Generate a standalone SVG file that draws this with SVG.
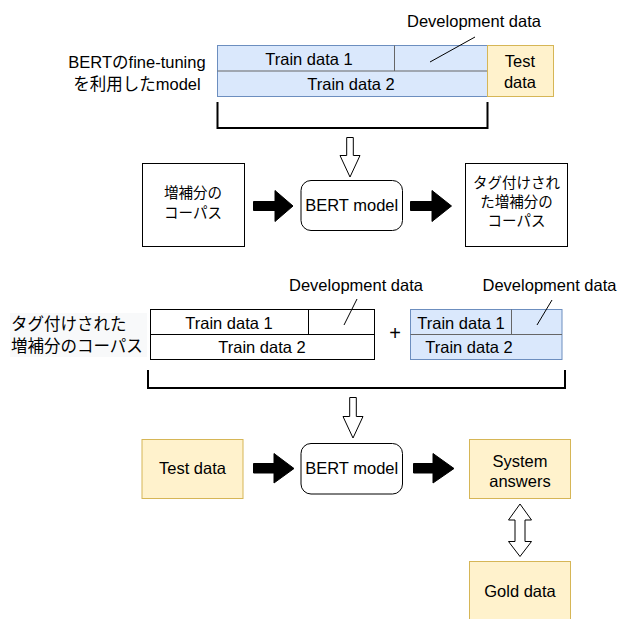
<svg xmlns="http://www.w3.org/2000/svg" width="618" height="619" viewBox="0 0 618 619">
<style>
text{font-family:"Liberation Sans","Noto Sans CJK JP",sans-serif;fill:#000;}
.t{font-size:16.5px;text-anchor:middle;}
.jp{font-family:"Noto Sans CJK JP",sans-serif;}
.blue{fill:#dae8fc;stroke:#6c8ebf;stroke-width:1;}
.yel{fill:#fff2cc;stroke:#d6b656;stroke-width:1;}
.box{fill:#fff;stroke:#000;stroke-width:1;}
.div{stroke:#666;stroke-width:1;fill:none;}
.ln{stroke:#000;stroke-width:1;fill:none;}
.br{stroke:#000;stroke-width:2;fill:none;}
.solid{fill:#000;stroke:#000;stroke-width:1;}
.hollow{fill:#fff;stroke:#000;stroke-width:1;}
</style>

<g id="top-label">
<text class="t" x="137" y="68">BERTのfine-tuning</text>
<text class="t" x="137" y="90">を利用したmodel</text>
</g>

<g id="top-data">
<rect class="blue" x="217.5" y="45.5" width="270" height="51"/>
<line class="div" x1="217.5" y1="71" x2="487.5" y2="71"/>
<line class="div" x1="394.5" y1="45.5" x2="394.5" y2="71"/>
<text class="t" x="309" y="65">Train data 1</text>
<text class="t" x="351" y="90">Train data 2</text>
</g>

<g id="top-test">
<rect class="yel" x="487.5" y="45.5" width="66" height="51"/>
<text class="t" x="520" y="67">Test</text>
<text class="t" x="520" y="88">data</text>
</g>

<g id="top-dev-label">
<text class="t" x="474" y="27">Development data</text>
</g>

<g id="mid-left">
<rect class="box" x="142.5" y="163.5" width="102" height="83"/>
<text class="t jp" x="193" y="198" style="font-size:14.5px">増補分の</text>
<text class="t jp" x="193" y="218" style="font-size:14.5px">コーパス</text>
</g>

<g id="mid-bert">
<rect class="box" x="301" y="180.5" width="101.5" height="50" rx="10"/>
<text class="t" x="351.7" y="211">BERT model</text>
</g>

<g id="mid-right">
<rect class="box" x="465.5" y="163.5" width="102" height="83"/>
<text class="t jp" x="516.5" y="188" style="font-size:14.5px">タグ付けされ</text>
<text class="t jp" x="516.5" y="207" style="font-size:14.5px">た増補分の</text>
<text class="t jp" x="516.5" y="226" style="font-size:14.5px">コーパス</text>
</g>

<g id="sec-label">
<rect x="10" y="313" width="137" height="44" fill="#f8f9fa"/>
<text class="jp" x="11" y="330" style="font-size:16.5px">タグ付けされた</text>
<text class="jp" x="11" y="352" style="font-size:16.5px">増補分のコーパス</text>
</g>

<g id="sec-white">
<rect class="box" x="150.5" y="309.5" width="224" height="50"/>
<line class="ln" x1="150.5" y1="334.5" x2="374.5" y2="334.5"/>
<line class="ln" x1="308.5" y1="309.5" x2="308.5" y2="334.5"/>
<text class="t" x="229" y="329">Train data 1</text>
<text class="t" x="262" y="353">Train data 2</text>
</g>

<g id="plus">
<text class="t" x="395" y="340" style="font-size:20px">+</text>
</g>

<g id="sec-blue">
<rect class="blue" x="410.5" y="309.5" width="151.5" height="50"/>
<line class="div" x1="410.5" y1="334.5" x2="562" y2="334.5"/>
<line class="div" x1="511.5" y1="309.5" x2="511.5" y2="334.5"/>
<text class="t" x="461" y="329">Train data 1</text>
<text class="t" x="469" y="353">Train data 2</text>
</g>

<g id="sec-dev-labels">
<text class="t" x="356" y="291">Development data</text>
<text class="t" x="549.5" y="291">Development data</text>
</g>

<g id="bot-test">
<rect class="yel" x="142" y="439.5" width="101" height="59"/>
<text class="t" x="192.5" y="474">Test data</text>
</g>

<g id="bot-bert">
<rect class="box" x="301" y="443.5" width="101.5" height="50.5" rx="10"/>
<text class="t" x="351.7" y="474">BERT model</text>
</g>

<g id="bot-system">
<rect class="yel" x="469.5" y="439.5" width="101" height="59"/>
<text class="t" x="520" y="467">System</text>
<text class="t" x="520" y="487">answers</text>
</g>

<g id="bot-gold">
<rect class="yel" x="469.5" y="561.5" width="101" height="60"/>
<text class="t" x="520" y="597">Gold data</text>
</g>

<g id="connectors">
<line class="ln" x1="475" y1="37" x2="430" y2="62"/>
<line class="ln" x1="357" y1="299" x2="344" y2="325"/>
<line class="ln" x1="552" y1="300" x2="537" y2="325"/>
<path class="br" d="M217.5 102 V128 H487.5 V102"/>
<path class="br" d="M148 370 V388 H565 V370"/>
<path class="hollow" d="M346.7 137.5 H353.3 V155.5 H360 L350 177 L340 155.5 H346.7 Z"/>
<path class="hollow" d="M349.7 397.5 H356.3 V416.5 H363 L353 438 L343 416.5 H349.7 Z"/>
<path class="solid" d="M253.5 201.5 H275 V190.5 L293 206 L275 221.5 V210.5 H253.5 Z"/>
<path class="solid" d="M410.5 201.5 H432 V190.5 L451.5 206 L432 221.5 V210.5 H410.5 Z"/>
<path class="solid" d="M253.5 463.5 H274 V453.5 L294 468.5 L274 483 V473 H253.5 Z"/>
<path class="solid" d="M413.5 463.5 H433 V453.5 L454 468.5 L433 483 V473 H413.5 Z"/>
<path class="hollow" d="M520 504 L531.5 520 H525 V541.5 H531.5 L520 556.5 L508.5 541.5 H515 V520 H508.5 Z"/>
</g>
</svg>
